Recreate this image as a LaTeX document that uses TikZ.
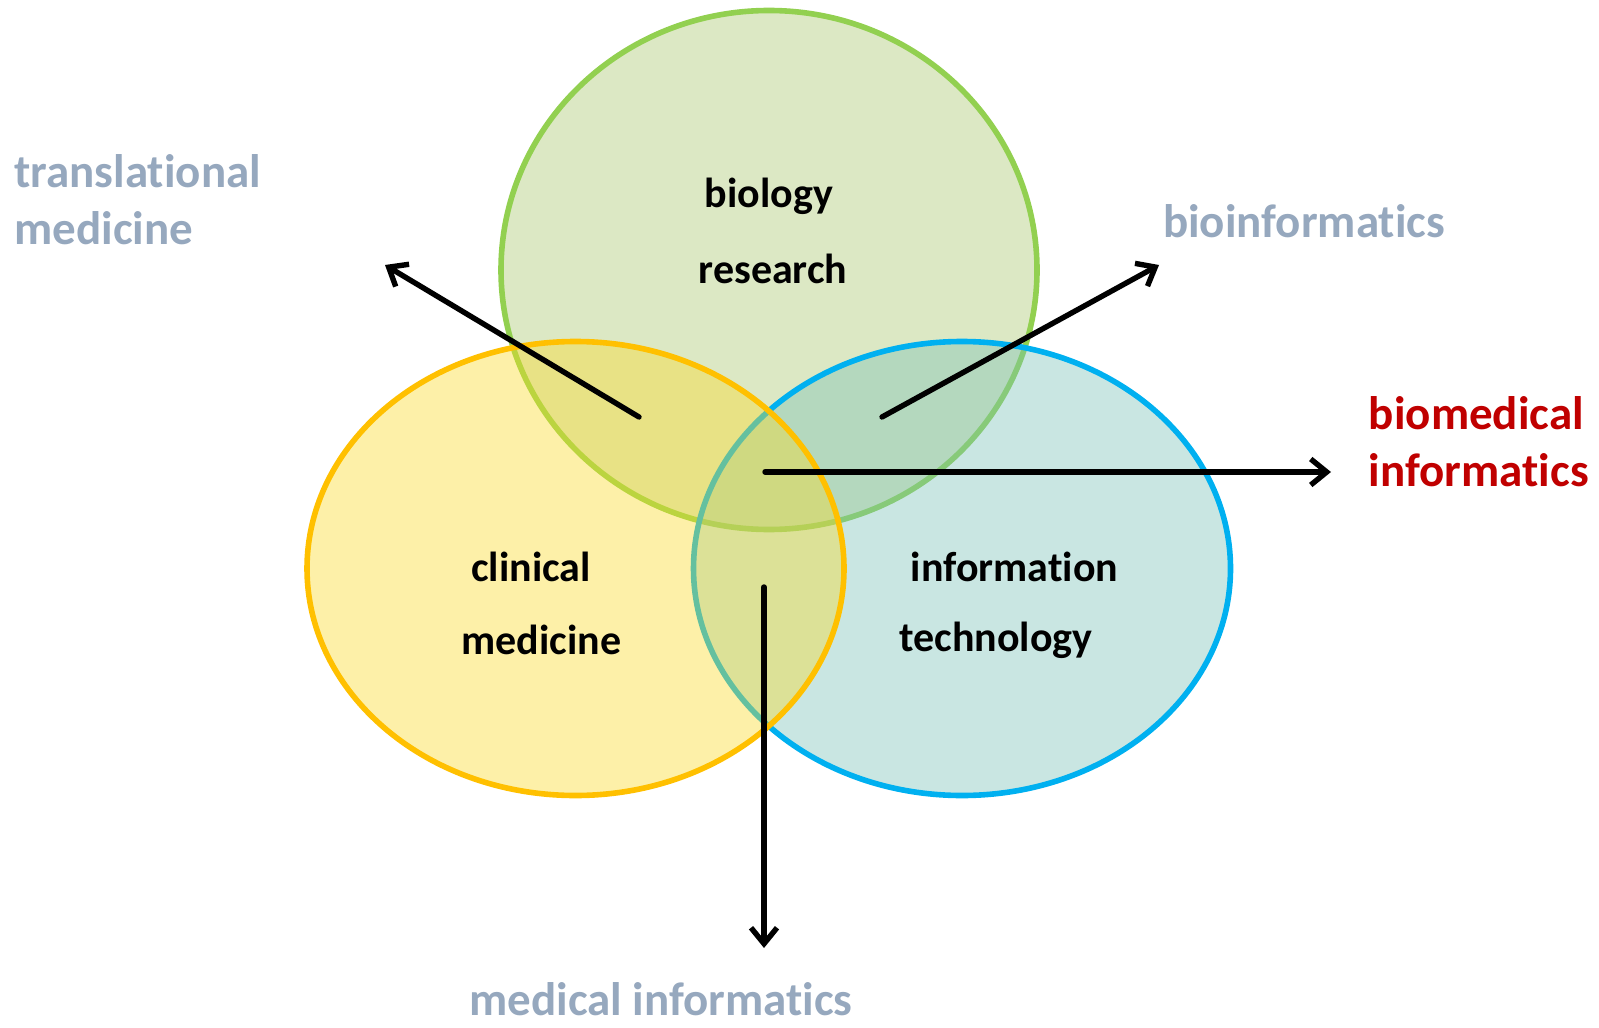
\documentclass[tikz,border=0pt]{standalone}
\usepackage{fontspec}
\setmainfont{Carlito}[Ligatures={NoCommon,NoContextual}]
\usetikzlibrary{arrows.meta,shapes.geometric}
\definecolor{bioline}{RGB}{146,208,80}
\definecolor{biofill}{RGB}{168,198,108}
\definecolor{clinline}{RGB}{255,192,0}
\definecolor{clinfill}{RGB}{250,218,38}
\definecolor{itline}{RGB}{0,176,240}
\definecolor{itfill}{RGB}{120,193,183}
\definecolor{greylabel}{RGB}{150,168,190}
\definecolor{redlabel}{RGB}{192,0,0}

\begin{document}
\begin{tikzpicture}[x=0.5pt,y=-0.5pt,>={Straight Barb[length=8pt,width=13pt]},
    field/.style={ellipse,inner sep=0pt,line width=2.8pt,fill opacity=0.4},
    fieldname/.style={inner sep=0pt,font=\fontsize{21}{25}\selectfont\bfseries},
    area/.style={inner sep=0pt,align=left,text=greylabel,font=\fontsize{23.5}{28.5}\selectfont\bfseries},
    pointer/.style={->,line width=2.7pt,line cap=round}]
  \useasboundingbox (0,0) rectangle (1599,1027);
  % the three fields
  \node[field,draw=bioline,fill=biofill,minimum width=268pt,minimum height=259.5pt]  (bio)  at (769,270) {};
  \node[field,draw=itline,fill=itfill,minimum width=268.5pt,minimum height=227pt]    (it)   at (962,568.5) {};
  \node[field,draw=clinline,fill=clinfill,minimum width=268.5pt,minimum height=227pt] (clin) at (575.5,568.5) {};
  \node[fieldname] (biology)  at (769,196)   {biology};
  \node[fieldname] (research) at (773,269)   {research};
  \node[fieldname] (clinical) at (531,567)   {clinical};
  \node[fieldname] (clinmed)  at (541.5,640) {medicine};
  \node[fieldname] (information) at (1014.5,567) {information};
  \node[fieldname] (technology)  at (996,640)    {technology};
  % the overlaps
  \node[area,anchor=west] (transmed) at (14,200) {translational\\medicine};
  \node[area] (bioinf) at (1304,221) {bioinformatics};
  \node[area,anchor=west,text=redlabel] (biomedinf) at (1368.5,441.5) {biomedical\\informatics};
  \node[area] (medinf) at (661,999) {medical informatics};
  \coordinate (transstart) at (639,417);
  \coordinate (transend)   at (385,265);
  \coordinate (bioinfstart) at (882,417);
  \coordinate (bioinfend)   at (1159,265);
  \coordinate (biomedstart) at (765,472);
  \coordinate (biomedend)   at (1331,472);
  \coordinate (medstart) at (764,587);
  \coordinate (medend)   at (764,948);
  \path (transstart)  edge[pointer] (transend)
        (bioinfstart) edge[pointer] (bioinfend)
        (biomedstart) edge[pointer] (biomedend)
        (medstart)    edge[pointer] (medend);
\end{tikzpicture}
\end{document}
